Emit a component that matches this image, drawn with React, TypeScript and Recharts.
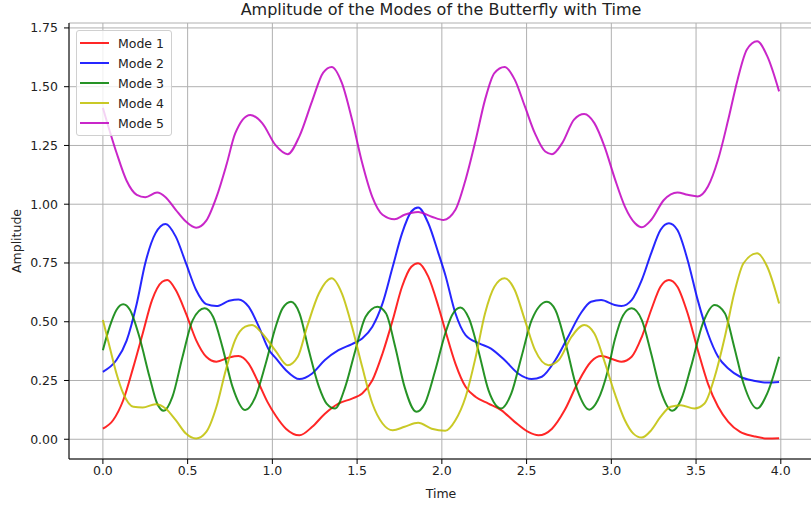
import React from 'react';
import {
  LineChart,
  Line,
  XAxis,
  YAxis,
  CartesianGrid,
  Label,
} from 'recharts';

// values, each mode with its own sample times
const mode1Time = [0, 0.06, 0.12, 0.18, 0.235, 0.29, 0.35, 0.38, 0.43, 0.49, 0.55, 0.61, 0.67, 0.745, 0.8, 0.86, 0.92, 0.97, 1.02, 1.08, 1.16, 1.235, 1.31, 1.39, 1.47, 1.53, 1.59, 1.65, 1.71, 1.765, 1.82, 1.86, 1.92, 1.98, 2.02, 2.08, 2.14, 2.2, 2.275, 2.35, 2.43, 2.51, 2.57, 2.65, 2.725, 2.8, 2.88, 2.94, 3.02, 3.06, 3.12, 3.18, 3.235, 3.29, 3.34, 3.39, 3.45, 3.51, 3.57, 3.63, 3.69, 3.76, 3.84, 3.92, 3.99];
const mode1 = [0.045, 0.081, 0.166, 0.308, 0.45, 0.592, 0.67, 0.678, 0.635, 0.536, 0.422, 0.351, 0.33, 0.348, 0.354, 0.322, 0.237, 0.16, 0.1, 0.045, 0.017, 0.053, 0.109, 0.152, 0.173, 0.195, 0.251, 0.365, 0.507, 0.649, 0.734, 0.749, 0.692, 0.564, 0.464, 0.322, 0.223, 0.18, 0.152, 0.124, 0.074, 0.031, 0.017, 0.045, 0.124, 0.237, 0.33, 0.354, 0.337, 0.33, 0.351, 0.436, 0.55, 0.649, 0.678, 0.649, 0.536, 0.38, 0.237, 0.138, 0.074, 0.031, 0.013, 0.003, 0.004];

const mode2Time = [0, 0.08, 0.14, 0.2, 0.25, 0.31, 0.37, 0.43, 0.49, 0.55, 0.61, 0.67, 0.745, 0.8, 0.86, 0.92, 0.98, 1.02, 1.08, 1.16, 1.235, 1.31, 1.39, 1.47, 1.53, 1.59, 1.65, 1.71, 1.765, 1.82, 1.86, 1.92, 1.98, 2.02, 2.08, 2.14, 2.22, 2.29, 2.37, 2.45, 2.53, 2.59, 2.67, 2.745, 2.82, 2.88, 2.94, 3.02, 3.06, 3.12, 3.18, 3.235, 3.29, 3.34, 3.39, 3.45, 3.51, 3.57, 3.63, 3.69, 3.76, 3.84, 3.92, 3.99];
const mode2 = [0.287, 0.337, 0.42, 0.578, 0.749, 0.876, 0.916, 0.862, 0.749, 0.635, 0.575, 0.567, 0.589, 0.595, 0.564, 0.479, 0.38, 0.345, 0.294, 0.256, 0.28, 0.337, 0.379, 0.405, 0.429, 0.479, 0.578, 0.734, 0.876, 0.969, 0.986, 0.919, 0.791, 0.7, 0.536, 0.443, 0.408, 0.386, 0.337, 0.28, 0.256, 0.266, 0.337, 0.436, 0.536, 0.585, 0.592, 0.571, 0.567, 0.592, 0.678, 0.791, 0.89, 0.919, 0.89, 0.763, 0.592, 0.45, 0.351, 0.301, 0.266, 0.249, 0.241, 0.244];

const mode3Time = [0, 0.04, 0.08, 0.12, 0.16, 0.215, 0.275, 0.32, 0.36, 0.41, 0.47, 0.53, 0.6, 0.65, 0.705, 0.765, 0.84, 0.9, 0.96, 1.02, 1.06, 1.11, 1.16, 1.215, 1.275, 1.32, 1.37, 1.43, 1.49, 1.55, 1.62, 1.67, 1.725, 1.78, 1.85, 1.9, 1.96, 2.02, 2.06, 2.11, 2.16, 2.215, 2.275, 2.35, 2.41, 2.47, 2.53, 2.62, 2.67, 2.725, 2.8, 2.87, 2.92, 2.98, 3.02, 3.07, 3.12, 3.18, 3.235, 3.29, 3.36, 3.41, 3.47, 3.54, 3.61, 3.67, 3.725, 3.78, 3.86, 3.92, 3.99];
const mode3 = [0.379, 0.479, 0.55, 0.574, 0.55, 0.436, 0.266, 0.152, 0.121, 0.18, 0.351, 0.507, 0.557, 0.521, 0.393, 0.223, 0.124, 0.18, 0.32, 0.48, 0.557, 0.585, 0.536, 0.379, 0.223, 0.152, 0.131, 0.223, 0.379, 0.521, 0.564, 0.536, 0.393, 0.223, 0.117, 0.152, 0.29, 0.45, 0.528, 0.561, 0.514, 0.379, 0.209, 0.131, 0.195, 0.351, 0.507, 0.585, 0.55, 0.422, 0.209, 0.126, 0.166, 0.294, 0.422, 0.528, 0.557, 0.507, 0.365, 0.209, 0.121, 0.166, 0.308, 0.493, 0.571, 0.536, 0.393, 0.237, 0.131, 0.195, 0.351];

const mode4Time = [0, 0.04, 0.08, 0.12, 0.18, 0.235, 0.31, 0.37, 0.43, 0.49, 0.55, 0.61, 0.67, 0.725, 0.78, 0.84, 0.88, 0.94, 1.02, 1.09, 1.15, 1.205, 1.275, 1.35, 1.41, 1.47, 1.53, 1.59, 1.65, 1.71, 1.78, 1.86, 1.94, 2.02, 2.08, 2.14, 2.2, 2.255, 2.31, 2.37, 2.43, 2.49, 2.55, 2.63, 2.69, 2.765, 2.84, 2.9, 2.96, 3.02, 3.08, 3.13, 3.18, 3.235, 3.29, 3.35, 3.41, 3.49, 3.55, 3.61, 3.67, 3.725, 3.78, 3.86, 3.92, 3.99];
const mode4 = [0.507, 0.393, 0.28, 0.195, 0.138, 0.135, 0.149, 0.131, 0.081, 0.024, 0.003, 0.031, 0.138, 0.294, 0.422, 0.479, 0.486, 0.45, 0.375, 0.315, 0.351, 0.479, 0.621, 0.685, 0.621, 0.479, 0.308, 0.152, 0.067, 0.038, 0.053, 0.07, 0.045, 0.036, 0.081, 0.18, 0.351, 0.536, 0.649, 0.685, 0.635, 0.507, 0.379, 0.315, 0.337, 0.436, 0.486, 0.45, 0.33, 0.195, 0.081, 0.024, 0.007, 0.038, 0.095, 0.138, 0.145, 0.131, 0.152, 0.266, 0.436, 0.621, 0.749, 0.791, 0.734, 0.578];

const mode5Time = [0, 0.08, 0.14, 0.2, 0.25, 0.32, 0.37, 0.43, 0.49, 0.55, 0.61, 0.67, 0.73, 0.78, 0.87, 0.94, 1.02, 1.09, 1.16, 1.235, 1.3, 1.35, 1.41, 1.47, 1.53, 1.59, 1.65, 1.72, 1.78, 1.86, 1.94, 2.01, 2.08, 2.14, 2.2, 2.255, 2.31, 2.37, 2.43, 2.49, 2.55, 2.61, 2.65, 2.71, 2.78, 2.84, 2.9, 2.96, 3.02, 3.08, 3.14, 3.18, 3.235, 3.31, 3.39, 3.45, 3.51, 3.57, 3.63, 3.69, 3.745, 3.8, 3.86, 3.92, 3.99];
const mode5 = [1.41, 1.22, 1.1, 1.04, 1.03, 1.05, 1.03, 0.976, 0.926, 0.9, 0.93, 1.03, 1.17, 1.3, 1.38, 1.345, 1.25, 1.213, 1.29, 1.44, 1.56, 1.584, 1.516, 1.36, 1.175, 1.03, 0.955, 0.936, 0.955, 0.967, 0.947, 0.933, 0.976, 1.104, 1.274, 1.445, 1.558, 1.584, 1.53, 1.416, 1.3, 1.224, 1.213, 1.26, 1.36, 1.384, 1.345, 1.245, 1.11, 0.99, 0.919, 0.902, 0.933, 1.018, 1.05, 1.04, 1.033, 1.075, 1.19, 1.36, 1.53, 1.658, 1.693, 1.63, 1.48];

const xTicks = [0, 0.5, 1, 1.5, 2, 2.5, 3, 3.5, 4];
const yTicks = [0, 0.25, 0.5, 0.75, 1, 1.25, 1.5, 1.75];

const toPoints = (ts: number[], vs: number[]) => ts.map((t, i) => ({ t, v: vs[i] }));

const series = [
  { name: 'Mode 1', color: '#ff0000', data: toPoints(mode1Time, mode1) },
  { name: 'Mode 2', color: '#0000ff', data: toPoints(mode2Time, mode2) },
  { name: 'Mode 3', color: '#008000', data: toPoints(mode3Time, mode3) },
  { name: 'Mode 4', color: '#bfbf00', data: toPoints(mode4Time, mode4) },
  { name: 'Mode 5', color: '#bf00bf', data: toPoints(mode5Time, mode5) },
];

const FONT = '"DejaVu Sans", sans-serif';
const tickStyle = { fill: '#222', fontSize: 12.5, fontFamily: FONT };

// matplotlib-like legend box, placed over the upper left of the plot
const ModeLegend = () => (
  <div
    style={{
      position: 'absolute',
      left: 76,
      top: 30,
      width: 96,
      boxSizing: 'border-box',
      background: 'rgba(255,255,255,0.8)',
      border: '1px solid #d0d0d0',
      borderRadius: 3,
      padding: '2px 0 2px 3px',
      fontFamily: FONT,
      fontSize: 12.5,
      color: '#222',
    }}
  >
    {series.map((s) => (
      <div key={s.name} style={{ display: 'flex', alignItems: 'center', height: 20, whiteSpace: 'nowrap' }}>
        <span style={{ display: 'inline-block', width: 29, height: 2, background: s.color, opacity: 0.85, marginRight: 9 }} />
        <span>{s.name}</span>
      </div>
    ))}
  </div>
);

export default function App() {
  return (
    <div style={{ position: 'absolute', left: 0, top: 0, width: 811, height: 507, overflow: 'hidden', background: '#fff' }}>
      <div
        style={{
          position: 'absolute',
          left: 69,
          width: 744,
          top: 0,
          height: 19,
          lineHeight: '19px',
          textAlign: 'center',
          fontFamily: FONT,
          fontSize: 16,
          color: '#222',
        }}
      >
        Amplitude of the Modes of the Butterfly with Time
      </div>
      <LineChart width={820} height={507} margin={{ top: 23, right: 7, bottom: 0, left: 0 }}>
        <CartesianGrid stroke="#b0b0b0" strokeWidth={1} />
        <XAxis
          xAxisId="top"
          orientation="top"
          type="number"
          dataKey="t"
          domain={[-0.2, 4.19]}
          allowDataOverflow
          height={0}
          tick={false}
          tickLine={false}
          axisLine={{ stroke: '#000' }}
        />
        <XAxis
          type="number"
          dataKey="t"
          domain={[-0.2, 4.19]}
          allowDataOverflow
          ticks={xTicks}
          tickFormatter={(v: number) => v.toFixed(1)}
          tick={tickStyle}
          tickSize={5}
          tickMargin={2}
          height={48}
          axisLine={{ stroke: '#000' }}
          tickLine={{ stroke: '#000' }}
        >
          <Label value="Time" position="insideBottom" offset={9} style={{ fill: '#222', fontSize: 12.5, fontFamily: FONT }} />
        </XAxis>
        <YAxis
          type="number"
          dataKey="v"
          domain={[-0.084, 1.771]}
          allowDataOverflow
          ticks={yTicks}
          tickFormatter={(v: number) => v.toFixed(2)}
          tick={tickStyle}
          tickSize={5}
          tickMargin={6}
          width={69}
          axisLine={{ stroke: '#000' }}
          tickLine={{ stroke: '#000' }}
        >
          <Label
            value="Amplitude"
            angle={-90}
            position="insideLeft"
            offset={17}
            style={{ textAnchor: 'middle', fill: '#222', fontSize: 12.5, fontFamily: FONT }}
          />
        </YAxis>
        {series.map((s) => (
          <Line
            key={s.name}
            data={s.data}
            dataKey="v"
            name={s.name}
            type="monotone"
            stroke={s.color}
            strokeOpacity={0.85}
            strokeWidth={2}
            dot={false}
            isAnimationActive={false}
          />
        ))}
      </LineChart>
      <ModeLegend />
    </div>
  );
}
